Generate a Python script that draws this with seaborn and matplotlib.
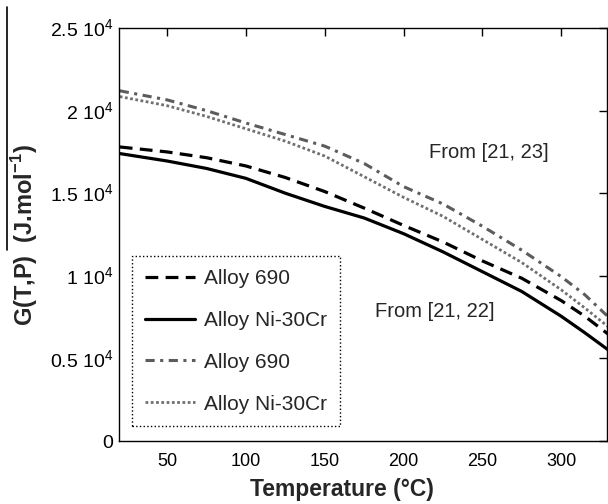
import matplotlib
matplotlib.use("Agg")
import matplotlib.pyplot as plt
from matplotlib.lines import Line2D
import seaborn as sns

# values (G in J/mol vs temperature in degC)
temperature = [20, 50, 75, 100, 125, 150, 175, 200, 225, 250, 275, 300, 315, 330]
g_690_ref22 = [17800, 17500, 17150, 16650, 15950, 15100, 14100, 13050, 12050, 10900, 9850, 8500, 7550, 6450]
g_nicr_ref22 = [17400, 16950, 16500, 15900, 15000, 14200, 13500, 12550, 11450, 10250, 9050, 7550, 6550, 5500]
g_690_ref23 = [21200, 20650, 20000, 19250, 18550, 17850, 16800, 15400, 14350, 13000, 11550, 9950, 8850, 7500]
g_nicr_ref23 = [20850, 20300, 19650, 18900, 18150, 17250, 16000, 14750, 13600, 12200, 10800, 9150, 8050, 6900]

x_ticks = [50, 100, 150, 200, 250, 300]
y_ticks = [0, 5000, 10000, 15000, 20000, 25000]
y_tick_labels = ["0", "0.5 10$^4$", "1 10$^4$", "1.5 10$^4$", "2 10$^4$", "2.5 10$^4$"]

sns.set_style("white")
plt.rcParams["font.family"] = ["Liberation Sans", "DejaVu Sans"]
plt.rcParams["mathtext.fontset"] = "custom"
plt.rcParams["mathtext.rm"] = "Liberation Sans"
plt.rcParams["mathtext.bf"] = "Liberation Sans:bold"

fig = plt.figure(figsize=(6.08, 5.04), dpi=100)
ax = fig.add_axes([0.1957, 0.125, 0.8026, 0.8194])

sns.lineplot(x=temperature, y=g_690_ref22, ax=ax, color="black", lw=2.3,
             linestyle=(0, (4, 2.3)), label="Alloy 690")
sns.lineplot(x=temperature, y=g_nicr_ref22, ax=ax, color="black", lw=2.3,
             linestyle="-", label="Alloy Ni-30Cr")
sns.lineplot(x=temperature, y=g_690_ref23, ax=ax, color="#5c5c5c", lw=2.2,
             linestyle=(0, (3, 1.8, 1, 1.8)), label="Alloy 690")
sns.lineplot(x=temperature, y=g_nicr_ref23, ax=ax, color="#707070", lw=2.0,
             linestyle=(0, (1, 0.9)), label="Alloy Ni-30Cr")

ax.set_xlim(19.5, 329)
ax.set_ylim(0, 25000)
ax.set_xticks(x_ticks)
ax.set_xticklabels([str(t) for t in x_ticks])
ax.set_yticks(y_ticks)
ax.set_yticklabels(y_tick_labels)
ax.tick_params(direction="in", top=True, right=True, length=6, width=1,
               colors="black")
ax.tick_params(axis="x", pad=9, labelsize=13)
ax.tick_params(axis="y", pad=4, labelsize=14)
for sp in ax.spines.values():
    sp.set_color("black")
    sp.set_linewidth(1)

ax.set_xlabel("Temperature (°C)", fontsize=16.5, fontweight="bold")
ax.xaxis.set_label_coords(0.456, -0.09)
ax.set_ylabel(r"G(T,P)  (J.mol$^{\mathbf{-1}}$)", fontsize=17, fontweight="bold")
ax.yaxis.set_label_coords(-0.161, 0.5)

ax.text(254, 17480, "From [21, 23]", ha="center", va="center", fontsize=14.5)
ax.text(220, 7820, "From [21, 22]", ha="center", va="center", fontsize=14.5)

leg = ax.legend(loc="lower left", bbox_to_anchor=(0.027, 0.036), fontsize=15,
                handlelength=2.4, handletextpad=0.45, labelspacing=1.1,
                borderpad=0.6, borderaxespad=0,
                frameon=True, fancybox=False, framealpha=1)
leg.get_frame().set_edgecolor("black")
leg.get_frame().set_linestyle(":")
leg.get_frame().set_linewidth(1)

# overline drawn above the ylabel in the original figure
fig.add_artist(Line2D([0.011, 0.011], [0.504, 0.986], transform=fig.transFigure,
                      color="black", lw=1.2))

fig.savefig("out.png", dpi=100)
